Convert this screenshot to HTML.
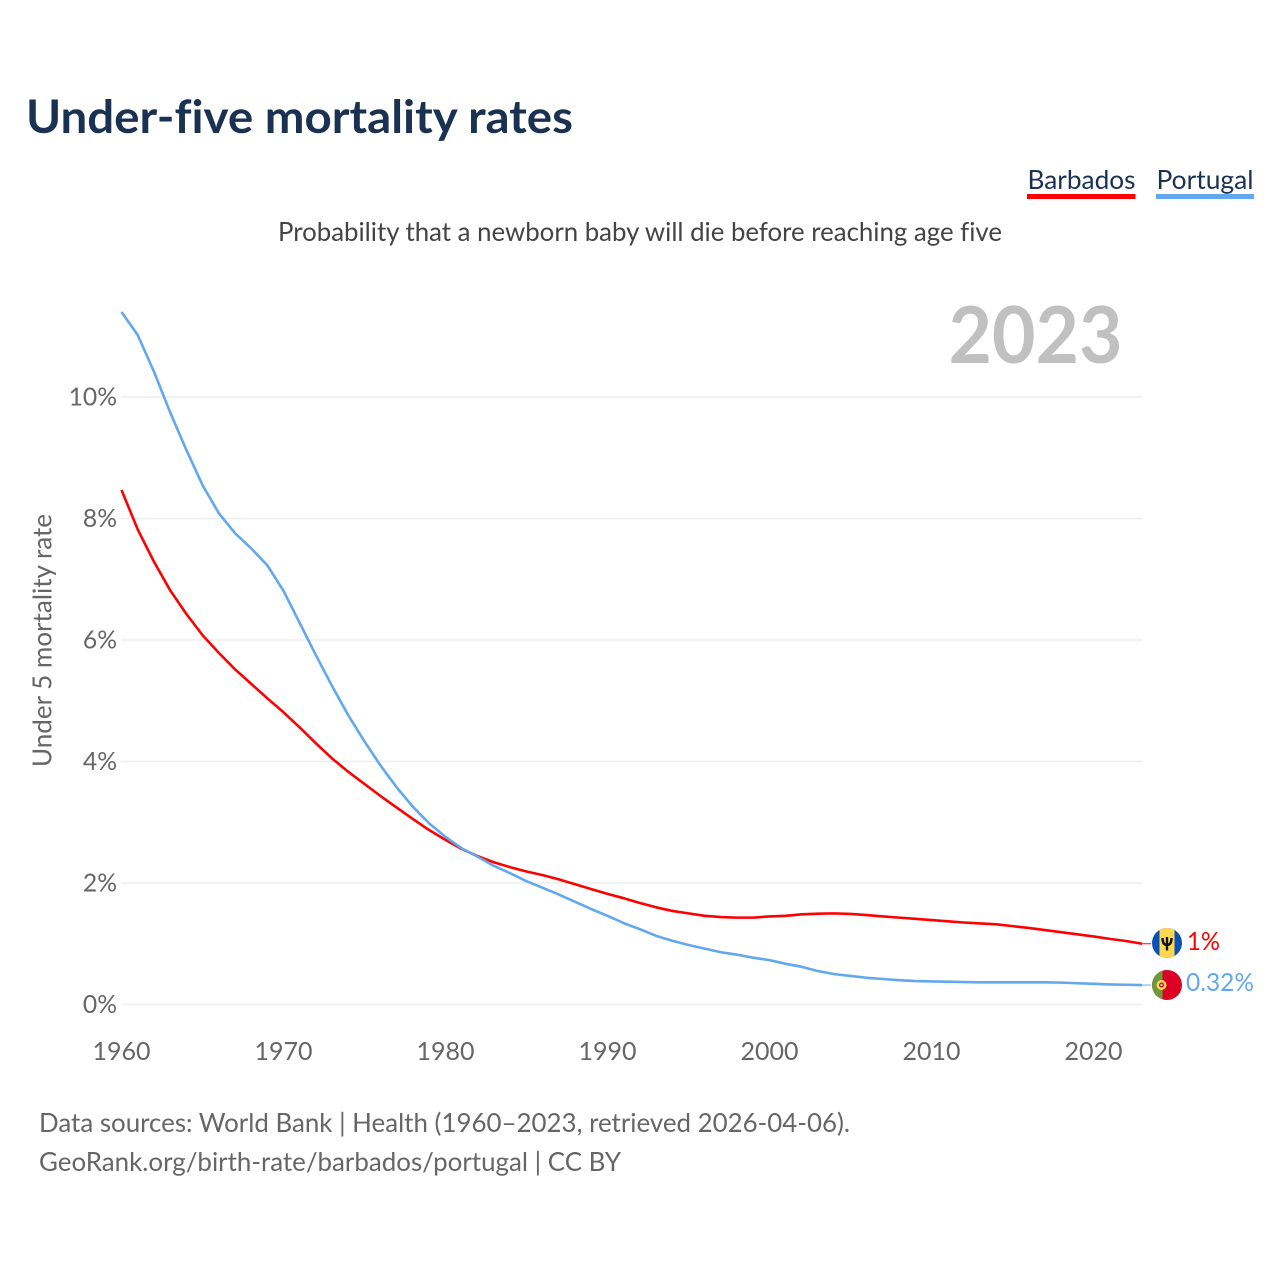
<!DOCTYPE html>
<html lang="en">
<head>
<meta charset="utf-8">
<title>Under-five mortality rates</title>
<style>
html,body{margin:0;padding:0;background:#fff;}
svg{display:block;}
text{font-family:"Lato","Carlito","Liberation Sans",sans-serif;font-variant-ligatures:none;}
</style>
</head>
<body>
<svg id="chart" xmlns="http://www.w3.org/2000/svg" width="1280" height="1280" viewBox="0 0 1280 1280">
  <defs>
    <clipPath id="flag-clip-b"><circle cx="1167" cy="943" r="15"/></clipPath>
    <clipPath id="flag-clip-p"><circle cx="1167" cy="985" r="15"/></clipPath>
  </defs>
  <text x="26" y="133" font-size="46" font-weight="700" fill="#1a3152" textLength="547" lengthAdjust="spacingAndGlyphs">Under-five mortality rates</text>
  <g>
    <g>
      <text x="1027.500" y="189" font-size="26" fill="#1a3152" textLength="108" lengthAdjust="spacingAndGlyphs">Barbados</text>
      <rect x="1027" y="194" width="108.500" height="5" fill="#ff0000"/>
    </g>
    <g>
      <text x="1156.500" y="189" font-size="26" fill="#1a3152" textLength="97" lengthAdjust="spacingAndGlyphs">Portugal</text>
      <rect x="1156" y="194" width="98" height="5" fill="#62a8ee"/>
    </g>
  </g>
  <text x="278" y="241" font-size="26" fill="#444444" textLength="724" lengthAdjust="spacingAndGlyphs">Probability that a newborn baby will die before reaching age five</text>
  <text x="948.500" y="363" font-size="79" font-weight="700" fill="#c0c0c0" textLength="174" lengthAdjust="spacingAndGlyphs">2023</text>
  <g id="grid"></g>
  <g id="yticks"></g>
  <g id="xticks"></g>
  <text transform="translate(51.500,640.500) rotate(-90)" text-anchor="middle" font-size="26" fill="#666666" textLength="253" lengthAdjust="spacingAndGlyphs">Under 5 mortality rate</text>
  <g id="series"></g>
  <g id="flags">
    <g clip-path="url(#flag-clip-b)">
      <rect x="1152" y="928" width="30" height="30" fill="#0b50b5"/>
      <rect x="1159.500" y="928" width="15" height="30" fill="#ffd84f"/>
      <path d="M1167 937v13.500M1162.500 938c0 5 1.500 7 4.500 7s4.500-2 4.500-7" fill="none" stroke="#111" stroke-width="2.400"/>
    </g>
    <g clip-path="url(#flag-clip-p)">
      <rect x="1152" y="970" width="30" height="30" fill="#dc0025"/>
      <rect x="1152" y="970" width="10.500" height="30" fill="#6b9a3a"/>
      <circle cx="1161.500" cy="985" r="5" fill="#ffd84f"/>
      <circle cx="1161.500" cy="985" r="2.500" fill="#dc0025"/>
      <circle cx="1161.500" cy="985" r="1.100" fill="#fff"/>
    </g>
  </g>
  <text x="1187" y="950" font-size="25" fill="#ff0000" textLength="33" lengthAdjust="spacingAndGlyphs">1%</text>
  <text x="1186" y="991" font-size="25" fill="#62a8ee" textLength="68" lengthAdjust="spacingAndGlyphs">0.32%</text>
  <text x="39" y="1132" font-size="26" fill="#666666" textLength="811" lengthAdjust="spacingAndGlyphs">Data sources: World Bank | Health (1960–2023, retrieved 2026-04-06).</text>
  <text x="39" y="1171" font-size="26" fill="#666666" textLength="582" lengthAdjust="spacingAndGlyphs">GeoRank.org/birth-rate/barbados/portugal | CC BY</text>
</svg>
<script>
const startYear = 1960;
const xTickYears = [1960, 1970, 1980, 1990, 2000, 2010, 2020];
const yTickValues = [0, 2, 4, 6, 8, 10];
const barbadosValues = [8.47,7.82,7.29,6.82,6.43,6.08,5.79,5.52,5.28,5.04,4.81,4.56,4.30,4.05,3.83,3.63,3.43,3.24,3.05,2.87,2.71,2.56,2.44,2.34,2.26,2.19,2.13,2.06,1.98,1.90,1.82,1.75,1.67,1.60,1.54,1.50,1.46,1.44,1.43,1.43,1.45,1.46,1.485,1.495,1.50,1.49,1.473,1.45,1.43,1.41,1.39,1.37,1.35,1.335,1.32,1.29,1.26,1.225,1.19,1.155,1.12,1.08,1.045,1.00];
const portugalValues = [11.40,11.02,10.42,9.75,9.13,8.55,8.09,7.76,7.51,7.23,6.81,6.28,5.75,5.24,4.76,4.33,3.93,3.57,3.25,2.98,2.76,2.57,2.43,2.28,2.16,2.03,1.92,1.81,1.69,1.57,1.46,1.34,1.24,1.13,1.05,0.98,0.92,0.86,0.82,0.77,0.73,0.67,0.62,0.55,0.50,0.47,0.44,0.42,0.40,0.385,0.38,0.375,0.37,0.365,0.365,0.365,0.365,0.365,0.36,0.35,0.34,0.33,0.325,0.32];

const SVG_NS = 'http://www.w3.org/2000/svg';
function xScale(year) { return 121.5 + (year - 1960) * 16.2; }
function yScale(value) { return 1004.5 - value * 60.75; }
const plotRight = xScale(2023);

const grid = document.getElementById('grid');
const yticks = document.getElementById('yticks');
const xticks = document.getElementById('xticks');
const series = document.getElementById('series');

yTickValues.forEach(function (v) {
  const line = document.createElementNS(SVG_NS, 'line');
  
  
  line.setAttribute('x1', xScale(1960));
  line.setAttribute('x2', plotRight);
  line.setAttribute('y1', yScale(v));
  line.setAttribute('y2', yScale(v));
  line.setAttribute('stroke', '#eeeeee');
  line.setAttribute('stroke-width', '1.6');
  grid.appendChild(line);

  const label = document.createElementNS(SVG_NS, 'text');
  
  
  label.setAttribute('x', 117);
  label.setAttribute('y', yScale(v) + 8.5);
  label.setAttribute('text-anchor', 'end');
  label.setAttribute('font-size', '24.7');
  label.setAttribute('fill', '#666666');
  label.textContent = v + '%';
  yticks.appendChild(label);
});

xTickYears.forEach(function (yr) {
  const label = document.createElementNS(SVG_NS, 'text');
  
  
  label.setAttribute('x', xScale(yr));
  label.setAttribute('y', 1060);
  label.setAttribute('text-anchor', 'middle');
  label.setAttribute('font-size', '25');
  label.setAttribute('fill', '#666666');
  label.textContent = yr;
  xticks.appendChild(label);
});

function drawSeries(values, color, name) {
  const pts = values.map(function (v, i) {
    return xScale(startYear + i).toFixed(2) + ',' + yScale(v).toFixed(2);
  });
  const path = document.createElementNS(SVG_NS, 'path');
  
  
  path.setAttribute('d', 'M' + pts.join('L'));
  path.setAttribute('fill', 'none');
  path.setAttribute('stroke', color);
  path.setAttribute('stroke-width', '2.6');
  path.setAttribute('stroke-linejoin', 'round');
  series.appendChild(path);

  const lastY = yScale(values[values.length - 1]);
  const conn = document.createElementNS(SVG_NS, 'line');
  
  
  conn.setAttribute('x1', plotRight);
  conn.setAttribute('x2', plotRight + 9);
  conn.setAttribute('y1', lastY);
  conn.setAttribute('y2', lastY);
  conn.setAttribute('stroke', color);
  conn.setAttribute('stroke-width', '1');
  series.appendChild(conn);
}
drawSeries(barbadosValues, '#ff0000', 'line-barbados');
drawSeries(portugalValues, '#62a8ee', 'line-portugal');
</script>
</body>
</html>
